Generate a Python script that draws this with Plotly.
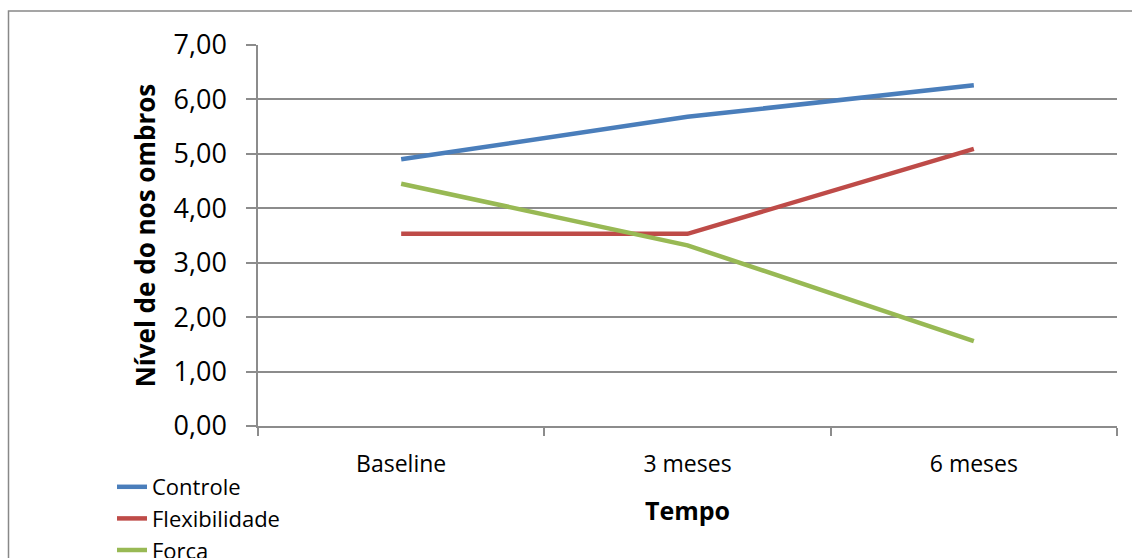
import plotly.graph_objects as go

categories = ["Baseline", "3 meses", "6 meses"]
controle = [4.90, 5.68, 6.26]
flexibilidade = [3.53, 3.53, 5.09]
forca = [4.45, 3.32, 1.56]
series_names = ["Controle", "Flexibilidade", "Forca"]
colors = ["#4A7EBB", "#BE4B48", "#98B954"]

W, H = 1132, 558
L, R, T, B = 258, 15, 45, 132
pw, ph = W - L - R, H - T - B

def px_x(x):
    return (x - L) / pw

def px_y(y):
    return (H - B - y) / ph

FONT = "Open Sans"
fig = go.Figure()
for i, (name, vals) in enumerate(zip(series_names, [controle, flexibilidade, forca])):
    fig.add_trace(go.Scatter(
        x=categories, y=vals, mode="lines", name=name,
        legendgroup=name,
        line=dict(color=colors[i], width=4.5),
    ))

grid = "#8c8c8c"
fig.update_layout(
    width=W, height=H,
    margin=dict(l=L, r=R, t=T, b=B, autoexpand=False),
    paper_bgcolor="white", plot_bgcolor="white",
    separators=",.",
    font=dict(family=FONT, color="black"),
    showlegend=True,
    legend=dict(
        x=px_x(112), xanchor="left", y=px_y(466), yanchor="top",
        orientation="v", tracegroupgap=0,
        font=dict(family=FONT, size=22, color="black"),
        bgcolor="rgba(0,0,0,0)",
    ),
    xaxis=dict(
        type="category", range=[-0.5, 2.5],
        showgrid=False, showline=True, linecolor=grid, linewidth=1.5,
        ticks="outside", tickson="boundaries", ticklen=8, tickcolor=grid, tickwidth=1.5,
        tickfont=dict(family=FONT, size=23, color="black"),
        ticklabelstandoff=17,
        title=dict(text="<b>Tempo</b>", font=dict(family=FONT, size=25, color="black"), standoff=24),
    ),
    yaxis=dict(
        range=[0, 7], dtick=1, tickformat=".2f",
        showgrid=True, gridcolor=grid, gridwidth=1.5,
        showline=True, linecolor=grid, linewidth=1.5,
        ticks="outside", ticklen=10, tickcolor=grid, tickwidth=1.5,
        tickfont=dict(family=FONT, size=27, color="black"),
        ticklabelstandoff=14,
        zeroline=False,
        title=dict(text="<b>Nível de do nos ombros</b>", font=dict(family=FONT, size=26, color="black"), standoff=10),
    ),
    shapes=[dict(
        type="rect", xref="paper", yref="paper",
        x0=px_x(8.5), x1=px_x(1140), y0=px_y(11), y1=px_y(570),
        line=dict(color="#888888", width=1.5), fillcolor="rgba(0,0,0,0)", layer="below",
    )],
)

fig.write_html("out.html")
